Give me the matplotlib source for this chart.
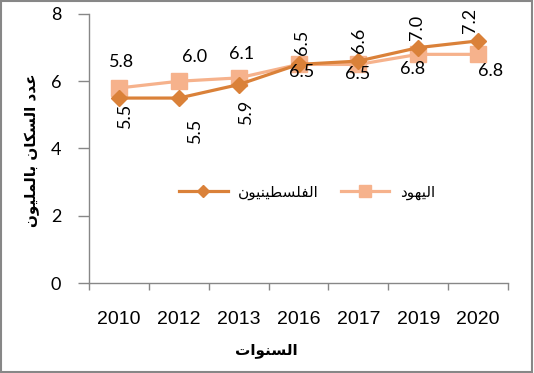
import matplotlib
matplotlib.use("Agg")
import matplotlib.pyplot as plt
from matplotlib.patches import Rectangle
import numpy as np

# ---------------------- Data ----------------------

years = ["2010", "2012", "2013", "2016", "2017", "2019", "2020"]
palestinians = [5.5, 5.5, 5.9, 6.5, 6.6, 7.0, 7.2]
jews = [5.8, 6.0, 6.1, 6.5, 6.5, 6.8, 6.8]

# Arabic text, already shaped (presentation forms) and in visual order,
# since matplotlib does no bidi / joining on its own
label_pal = "\uFEE5\uFEEE\uFEF4\uFEE8\uFEF4\uFEC4\uFEB4\uFEE0\uFED4\uFEDF\uFE8D"   # الفلسطينيون
label_jews = "\uFEA9\uFEEE\uFEEC\uFEF4\uFEDF\uFE8D"                             # اليهود
x_title = "\uFE95\uFE8D\uFEEE\uFEE8\uFEB4\uFEDF\uFE8D"                           # السنوات
y_title = ("\uFEE5\uFEEE\uFEF4\uFEE0\uFEE4\uFEDF\uFE8E\uFE91 "
           "\uFEE5\uFE8E\uFEDC\uFEB4\uFEDF\uFE8D "
           "\uFEA9\uFEAA\uFECB")                                                  # عدد السكان بالمليون

# ---------------------- Style ----------------------

c_pal = "#DA8139"
c_jews = "#F6B28C"
grey = "#878787"
num_font = "Lato"
arabic_font = ["DejaVu Sans"]

# data label offsets in pixels (dx, dy)
pal_offsets = [(6, -17), (16, -32), (7, -27), (3, 22), (1, 21), (-1, 20), (-8, 20)]
jews_offsets = [(3, 26), (16, 24), (3, 24), (3, -8), (-1, -10), (-6, -15), (12, -17)]

# ---------------------- Plot ----------------------

fig = plt.figure(figsize=(5.34, 3.73), dpi=100)
ax = fig.add_axes([89 / 534, 1 - 283 / 373, 419 / 534, 269 / 373])

x = np.arange(len(years))
ax.plot(x, palestinians, color=c_pal, lw=2.3, marker="D", ms=8.5,
        mec=c_pal, mfc=c_pal, label=label_pal, zorder=3)
ax.plot(x, jews, color=c_jews, lw=2.3, marker="s", ms=11,
        mec=c_jews, mfc=c_jews, label=label_jews, zorder=2)

for xi, v, (dx, dy) in zip(x, palestinians, pal_offsets):
    ax.annotate(f"{v:.1f}", (xi, v), xytext=(dx, dy), textcoords="offset pixels",
                ha="center", va="center", rotation=90, fontsize=13,
                family=num_font, zorder=5)
for xi, v, (dx, dy) in zip(x, jews, jews_offsets):
    ax.annotate(f"{v:.1f}", (xi, v), xytext=(dx, dy), textcoords="offset pixels",
                ha="center", va="center", fontsize=13, family=num_font, zorder=5)

ax.set_xlim(-0.5, len(years) - 0.5)
ax.set_ylim(0, 8)
ax.set_yticks([0, 2, 4, 6, 8])
ax.set_xticks(x)
ax.set_xticklabels(years, fontsize=14, family="Liberation Sans")
ax.set_xticks(np.arange(len(years) + 1) - 0.5, minor=True)
ax.tick_params(axis="x", which="major", length=0, pad=20)
ax.tick_params(axis="x", which="minor", length=5, color=grey, width=1)
ax.tick_params(axis="y", length=8, color=grey, width=1, pad=12, labelsize=13)
for lab in ax.get_yticklabels():
    lab.set_family(num_font)

for s in ["top", "right"]:
    ax.spines[s].set_visible(False)
for s in ["left", "bottom"]:
    ax.spines[s].set_color(grey)
    ax.spines[s].set_linewidth(1)

leg = ax.legend(loc="center", bbox_to_anchor=(307 / 534, 1 - 192 / 373),
                bbox_transform=fig.transFigure, ncol=2, frameon=False,
                prop={"family": arabic_font, "size": 11}, handlelength=3.2,
                columnspacing=1.4, handletextpad=0.7, markerscale=0.75)

fig.text(266 / 534, 1 - 350 / 373, x_title, ha="center", va="center",
         family=arabic_font, fontsize=11, fontweight="bold")
fig.text(32 / 534, 1 - 150 / 373, y_title, ha="center", va="center", rotation=90,
         family=arabic_font, fontsize=11, fontweight="bold")

# outer chart border
fig.add_artist(Rectangle((0.002, 0.003), 0.994, 0.993, transform=fig.transFigure,
                         fill=False, ec=grey, lw=1.5))

fig.savefig("out.png", dpi=100)
